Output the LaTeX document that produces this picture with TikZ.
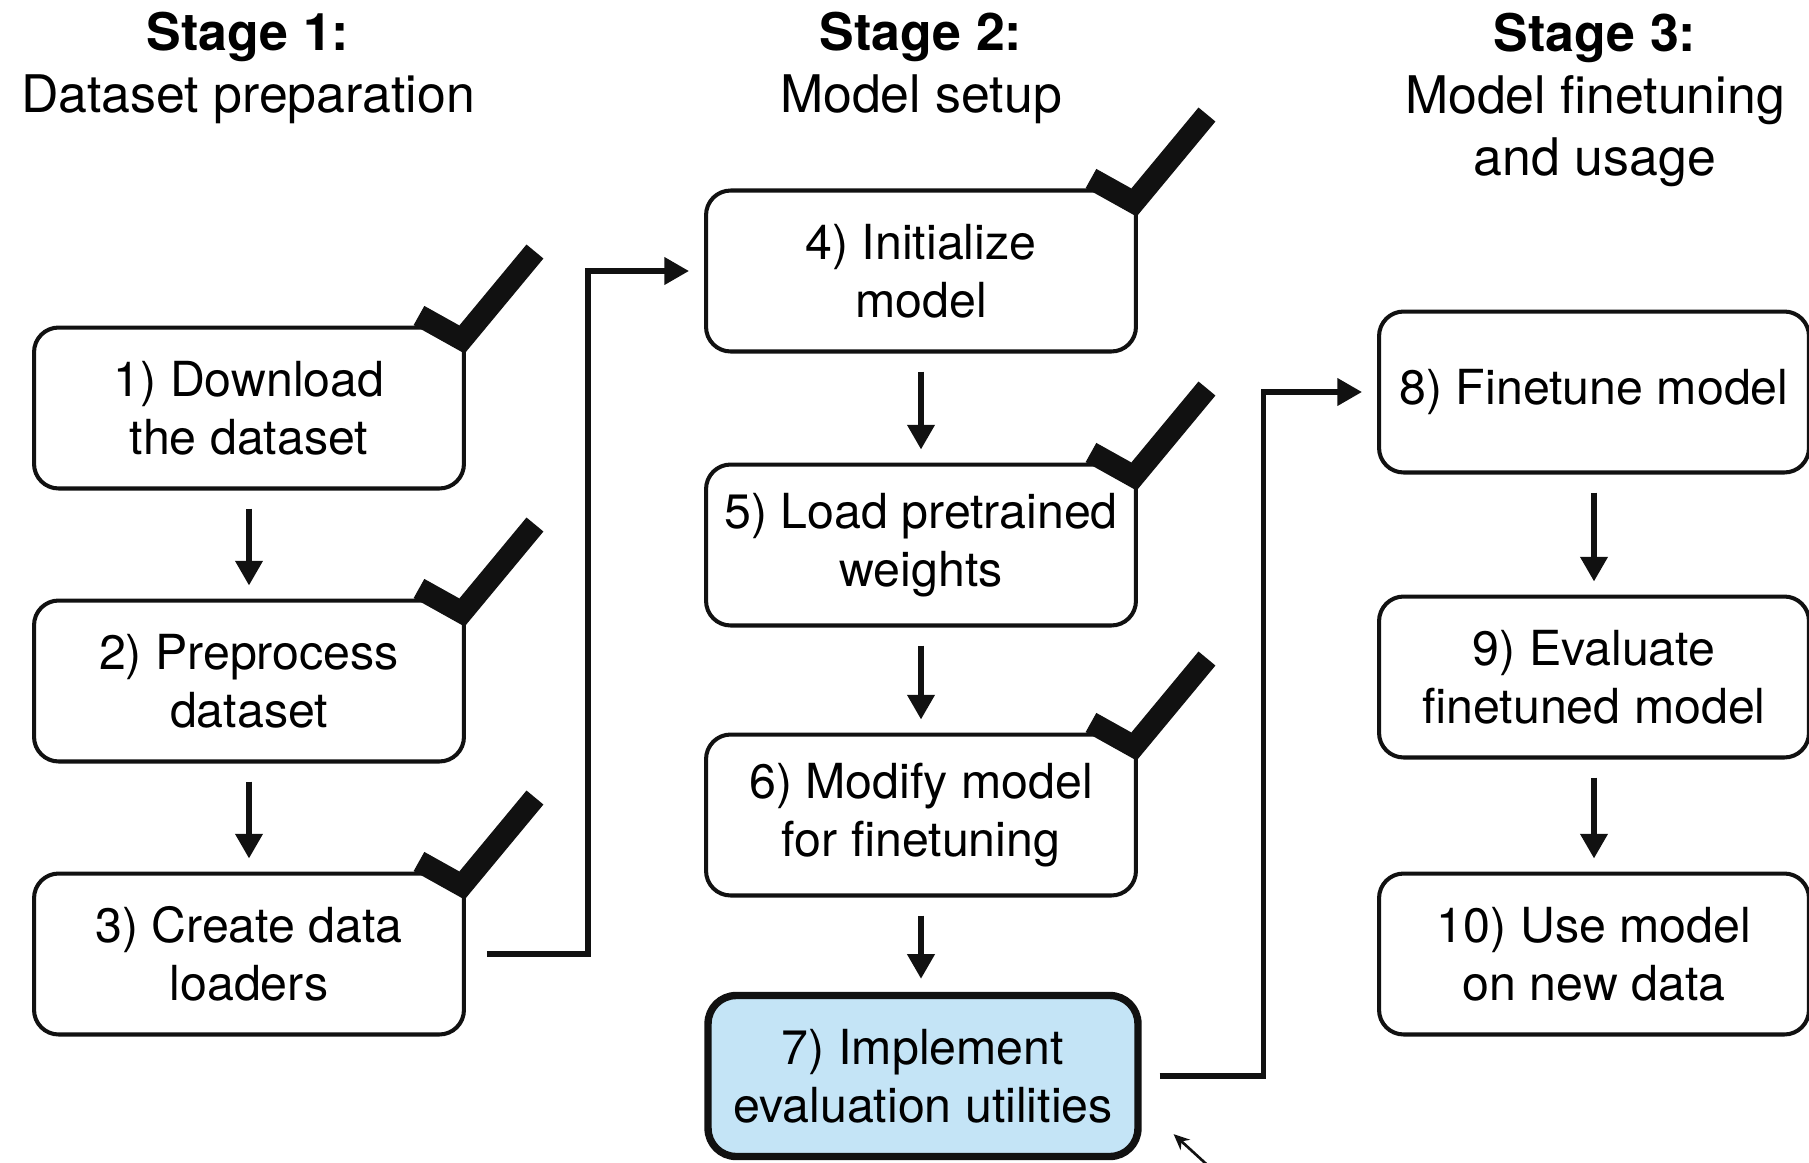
\documentclass[tikz,border=0pt]{standalone}
\usepackage{fontspec}
\setmainfont{TeX Gyre Heros}
\usetikzlibrary{arrows.meta,positioning}
\definecolor{evalblue}{HTML}{C4E4F6}
\definecolor{inkdark}{HTML}{111111}
\tikzset{
  box/.style={draw=inkdark,line width=2.3pt,rounded corners=14pt,minimum width=8.6cm,minimum height=3.22cm,align=center,inner sep=2pt,font=\fontsize{27.5}{33}\selectfont},
  current/.style={box,fill=evalblue,line width=4.2pt,rounded corners=16pt},
  stagehead/.style={align=center,font=\fontsize{29.5}{35.5}\selectfont},
  ar/.style={-{Triangle[length=14pt,width=15pt]},draw=inkdark,line width=3.2pt},
  down/.style={ar,shorten <=0.36cm,shorten >=0.26cm},
  tickmark/.style={draw=inkdark,line width=12.5pt},
  pointer/.style={-{Stealth[length=9pt,width=8pt]},draw=inkdark,line width=1.5pt},
}
% check mark at the top right corner of a box
\newcommand\donemark[1]{%
  \draw[tickmark] ([shift={(-0.94cm,0.20cm)}]#1.north east) -- ([shift={(-0.08cm,-0.28cm)}]#1.north east) -- ++(1.46cm,1.76cm);}

\begin{document}
\begin{tikzpicture}[x=0.02cm,y=-0.02cm]
\useasboundingbox (0,0) rectangle (1809,1163);
% stage titles
\node[stagehead] (h1) at (248,68) {\textbf{Stage 1:}\\Dataset preparation};
\node[stagehead] (h2) at (921,68) {\textbf{Stage 2:}\\Model setup};
\node[stagehead] (h3) at (1595,100) {\textbf{Stage 3:}\\Model finetuning\\and usage};
% stage 1
\node[box] (b1) at (249,408) {1) Download\\the dataset};
\node[box] (b2) at (249,681) {2) Preprocess\\dataset};
\node[box] (b3) at (249,954) {3) Create data\\loaders};
% stage 2
\node[box] (b4) at (921,271) {4) Initialize\\model};
\node[box] (b5) at (921,545) {5) Load pretrained\\weights};
\node[box] (b6) at (921,815) {6) Modify model\\for finetuning};
\node[current] (b7) at (923,1076) {7) Implement\\evaluation utilities};
% stage 3
\node[box] (b8) at (1594,392) {8) Finetune model};
\node[box] (b9) at (1594,677) {9) Evaluate\\finetuned model};
\node[box] (b10) at (1594,954) {10) Use model\\on new data};
% arrows inside a stage
\foreach \a/\b in {b1/b2,b2/b3,b4/b5,b5/b6,b6/b7,b8/b9,b9/b10}
  \draw[down] (\a.south) -- (\a.south |- \b.north);
% from one stage to the next
\draw[ar] ([xshift=0.42cm]b3.east) -- ++(2.02cm,0) |- ([xshift=-0.30cm]b4.west);
\draw[ar] ([xshift=0.36cm]b7.east) -- ++(2.08cm,0) |- ([xshift=-0.30cm]b8.west);
% done
\foreach \n in {b1,b2,b3,b4,b5,b6}
  \donemark{\n};
\coordinate (ptr) at (1215,1172);
\draw[pointer] (ptr) -- ([shift={(0.64cm,0.52cm)}]b7.south east);
\end{tikzpicture}
\end{document}
